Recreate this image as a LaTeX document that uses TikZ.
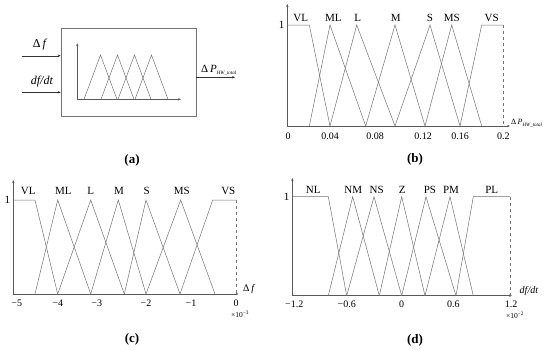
\documentclass[tikz,border=0pt]{standalone}
\usepackage{fontspec}
\setmainfont{Liberation Serif}
\usetikzlibrary{arrows.meta}
\newcommand{\hwsub}{\raisebox{-0.45ex}{\fontsize{5}{6}\selectfont\itshape HW\_total}}
\begin{document}
\begin{tikzpicture}[
        x=1pt, y=-1pt,
        >={Stealth[length=3pt, width=2.4pt]},
        membership/.style={draw=black!55, line width=0.5pt},
        axis/.style={draw=black!65, line width=0.5pt, ->},
        term/.style={font=\fontsize{11}{13}\selectfont, inner sep=0pt},
        ticklabel/.style={font=\fontsize{10}{12}\selectfont, inner sep=0pt},
        panel/.style={font=\fontsize{13}{15}\selectfont\bfseries, inner sep=0pt}
    ]
        \useasboundingbox (0,0) rectangle (550,351);

        % (a)
        \node[draw=black!55, line width=0.5pt, minimum width=135pt,
            minimum height=88pt, inner sep=0pt] (fuzzy) at (128.5,72) {};
        \draw[axis] (77.3,99.3) -- (77.3,43.3);
        \draw[axis] (77.3,99.3) -- (181,99.3);
        \foreach \i in {0,1,2,3} {
            \draw[membership] ({84+17*\i},99.3) -- ({100.5+17*\i},55)
                -- ({117+17*\i},99.3);
        }
        \coordinate (dfStart) at (21.7,55.7);
        \coordinate (rateStart) at (21.7,92.3);
        \coordinate (powerEnd) at (235,77.3);
        \draw[->, black!80] (dfStart) -- (dfStart -| fuzzy.west);
        \draw[->, black!80] (rateStart) -- (rateStart -| fuzzy.west);
        \draw[->, black!80] (fuzzy.east |- powerEnd) -- (powerEnd);
        \node[font=\fontsize{12}{14}\selectfont] (dfLabel) at (40,45)
            {Δ\,\textit{f}};
        \node[font=\fontsize{12}{14}\selectfont] (rateLabel) at (42,82)
            {\textit{df/dt}};
        \node[anchor=west, inner sep=0pt, font=\fontsize{11}{13}\selectfont]
            (powerLabel) at (201,70) {Δ\,\textit{P}\hwsub};
        \node[panel] (captionA) at (132,160) {(a)};

        % (b)
        \draw[axis] (287.3,126) -- (287.3,4);
        \draw[axis] (287.3,126) -- (510,126);
        \draw[membership] (287.3,25) -- (309.3,25) -- (330,126);
        \foreach \l/\p/\r in {309.3/330/365.7, 330/356.7/395, 365.7/395/425,
            395/430/460, 425/451.7/481.7} {
            \draw[membership] (\l,126) -- (\p,25) -- (\r,126);
        }
        \draw[membership] (460,126) -- (481.7,25) -- (503.3,25);
        \draw[membership, dashed] (503.3,25) -- (503.3,126);
        \foreach \x/\t [count=\i] in {300.7/VL, 333.3/ML, 357.7/L, 395.7/M,
            430/S, 451.7/MS, 491.7/VS} {
            \node[term] (bterm\i) at (\x,18) {\t};
        }
        \foreach \x/\t [count=\i] in {288/0, 330/0.04, 375/0.08, 423/0.12,
            460/0.16, 503.3/0.2} {
            \node[ticklabel] (btick\i) at (\x,136) {\t};
        }
        \node[term] (bone) at (281.5,25) {1};
        \node[anchor=west, inner sep=0pt, font=\fontsize{8}{10}\selectfont]
            (bpower) at (511,123) {Δ\,\textit{P}\hwsub};
        \node[panel] (captionB) at (415,159) {(b)};

        % (c)
        \draw[axis] (13.3,294) -- (13.3,180);
        \draw[axis] (13.3,294) -- (238.5,294);
        \draw[membership] (13.3,200) -- (35,200) -- (57.7,294);
        \foreach \l/\p/\r in {35/57.7/90.7, 57.7/90.7/124.3, 90.7/118.3/146,
            124.3/146/180, 146/180.7/215} {
            \draw[membership] (\l,294) -- (\p,200) -- (\r,294);
        }
        \draw[membership] (180,294) -- (212.7,200) -- (236,200);
        \draw[membership, dashed] (236,200) -- (236,294);
        \foreach \x/\t [count=\i] in {28.3/VL, 63.3/ML, 90.7/L, 119/M,
            146.7/S, 181.7/MS, 228.3/VS} {
            \node[term] (cterm\i) at (\x,191) {\t};
        }
        \foreach \x/\t [count=\i] in {16.7/−5, 57.7/−4, 96.7/−3, 146/−2,
            191/−1, 236/0} {
            \node[ticklabel] (ctick\i) at (\x,303) {\t};
        }
        \node[inner sep=0pt, font=\fontsize{7.5}{8}\selectfont] (cscale)
            at (240,314) {×10\textsuperscript{−3}};
        \node[term] (cone) at (7.5,200) {1};
        \node[anchor=west, inner sep=0pt, font=\fontsize{10}{12}\selectfont]
            (cdf) at (243,289) {Δ\,\textit{f}};
        \node[panel] (captionC) at (132,339) {(c)};

        % (d)
        \draw[axis] (292.3,295.7) -- (292.3,178);
        \draw[axis] (292.3,295.7) -- (512,295.7);
        \draw[membership] (292.3,196.7) -- (328.3,196.7) -- (346.7,295.7);
        \foreach \l/\p/\r in {328.3/352.7/379.3, 346.7/374/401.7,
            379.3/401.7/425, 401.7/426/456, 425/450/473.3} {
            \draw[membership] (\l,295.7) -- (\p,196.7) -- (\r,295.7);
        }
        \draw[membership] (456,295.7) -- (473.3,196.7) -- (510,196.7);
        \draw[membership, dashed] (510,196.7) -- (510,295.7);
        \foreach \x/\t [count=\i] in {313.3/NL, 353.3/NM, 376.7/NS, 402.3/Z,
            430/PS, 451/PM, 491.7/PL} {
            \node[term] (dterm\i) at (\x,190) {\t};
        }
        \foreach \x/\t [count=\i] in {294.3/−1.2, 346.7/−0.6, 401.7/0,
            453.3/0.6, 511/1.2} {
            \node[ticklabel] (dtick\i) at (\x,304.5) {\t};
        }
        \node[inner sep=0pt, font=\fontsize{7.5}{8}\selectfont] (dscale)
            at (515,315) {×10\textsuperscript{−2}};
        \node[term] (done) at (286.5,196.7) {1};
        \node[inner sep=0pt, font=\fontsize{10}{12}\selectfont] (ddfdt)
            at (529,291.5) {\textit{df/dt}};
        \node[panel] (captionD) at (415,340) {(d)};
    \end{tikzpicture}
\end{document}
